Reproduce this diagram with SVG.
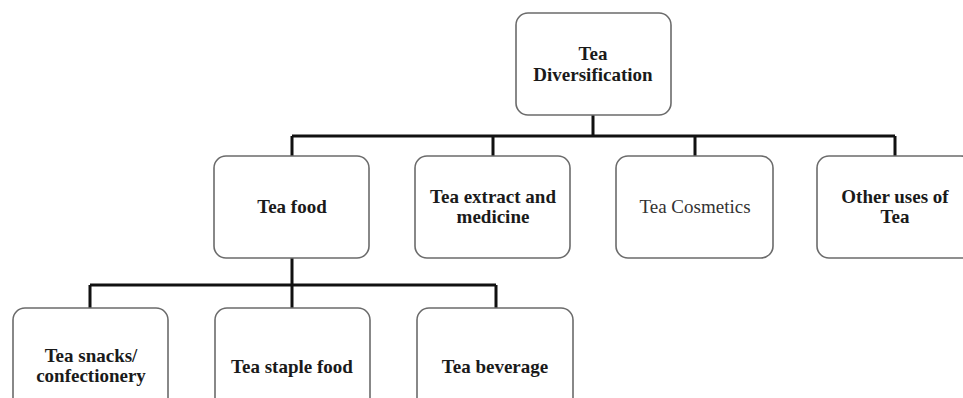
<svg xmlns="http://www.w3.org/2000/svg" width="963" height="398" viewBox="0 0 963 398">
<style>
.box{fill:#fff;stroke:#6b6b6b;stroke-width:1.6}
.t{font-family:"Liberation Serif","Times New Roman",serif;font-size:19px;font-weight:bold;fill:#1a1a1a;text-anchor:middle}
.n{font-weight:normal;fill:#333}
.c{fill:none;stroke:#111;stroke-width:3}
</style>
<rect width="963" height="398" fill="#fff"/>
<g id="connectors">
<path class="c" d="M593 115V136M292 136H895M292 136V156M493 136V156M695 136V156M895 136V156"/>
<path class="c" d="M292 258V285M90 285H496M90 285V308M292 285V308M496 285V308"/>
</g>
<g id="tea-diversification">
<rect class="box" x="516" y="13" width="155" height="102" rx="12"/>
<text class="t" x="593" y="60">Tea</text>
<text class="t" x="593" y="81">Diversification</text>
</g>
<g id="tea-food">
<rect class="box" x="214" y="156" width="155" height="102" rx="12"/>
<text class="t" x="292" y="213">Tea food</text>
</g>
<g id="tea-extract">
<rect class="box" x="415" y="156" width="155" height="102" rx="12"/>
<text class="t" x="493" y="203">Tea extract and</text>
<text class="t" x="493" y="223">medicine</text>
</g>
<g id="tea-cosmetics">
<rect class="box" x="616" y="156" width="157" height="102" rx="12"/>
<text class="t n" x="695" y="213">Tea Cosmetics</text>
</g>
<g id="other-uses">
<rect class="box" x="817" y="156" width="156" height="102" rx="12"/>
<text class="t" x="895" y="203">Other uses of</text>
<text class="t" x="895" y="223">Tea</text>
</g>
<g id="tea-snacks">
<rect class="box" x="13" y="308" width="155" height="102" rx="12"/>
<text class="t" x="91" y="362">Tea snacks/</text>
<text class="t" x="91" y="382">confectionery</text>
</g>
<g id="tea-staple-food">
<rect class="box" x="215" y="308" width="155" height="102" rx="12"/>
<text class="t" x="292" y="373">Tea staple food</text>
</g>
<g id="tea-beverage">
<rect class="box" x="417" y="308" width="156" height="102" rx="12"/>
<text class="t" x="495" y="373">Tea beverage</text>
</g>
</svg>
